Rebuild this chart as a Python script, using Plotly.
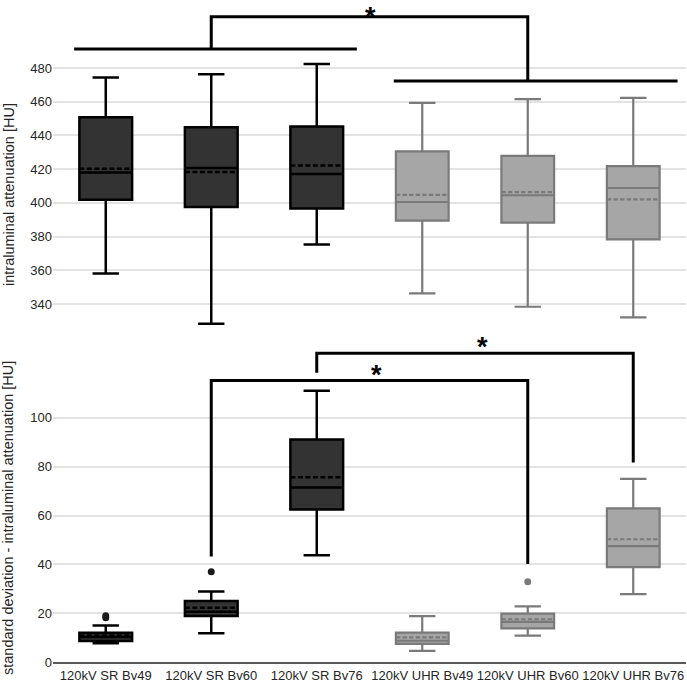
import plotly.graph_objects as go

categories = ["120kV SR Bv49", "120kV SR Bv60", "120kV SR Bv76",
              "120kV UHR Bv49", "120kV UHR Bv60", "120kV UHR Bv76"]

# Top panel: intraluminal attenuation [HU]
att_lower = [358.1, 328.3, 375.3, 346.3, 338.4, 332.1]
att_q1 = [401.9, 397.6, 396.6, 389.5, 388.3, 378.4]
att_median = [418.0, 420.6, 417.1, 400.5, 404.5, 408.8]
att_mean = [420.2, 418.3, 422.2, 404.7, 406.4, 402.1]
att_q3 = [450.8, 444.9, 445.3, 430.5, 427.9, 421.8]
att_upper = [474.3, 476.3, 482.4, 459.3, 461.5, 462.2]
att_ticks = [340, 360, 380, 400, 420, 440, 460, 480]

# Bottom panel: standard deviation - intraluminal attenuation [HU]
sd_lower = [7.8, 11.9, 43.8, 4.7, 10.9, 27.9]
sd_q1 = [8.7, 18.9, 62.5, 7.5, 13.9, 38.9]
sd_median = [10.3, 20.7, 71.5, 8.8, 16.5, 47.5]
sd_mean = [11.0, 22.3, 75.6, 10.2, 17.6, 50.3]
sd_q3 = [12.1, 25.1, 91.1, 12.1, 19.9, 62.9]
sd_upper = [15.0, 28.9, 111.0, 18.9, 22.9, 75.0]
sd_ticks = [0, 20, 40, 60, 80, 100]

sd_outlier_cat = ["120kV SR Bv49", "120kV SR Bv49", "120kV SR Bv60", "120kV UHR Bv60"]
sd_outlier_val = [18.2, 19.0, 37.0, 32.9]
sd_outlier_group = ["SR", "SR", "SR", "UHR"]

DARK_FILL, DARK_LINE = "#333333", "#000000"
LIGHT_FILL, LIGHT_LINE = "#a6a6a6", "#7a7a7a"

fig = go.Figure()


def add_boxes(lower, q1, med, mean, q3, upper, xa, ya):
    for sl, fill, line, lw in [(slice(0, 3), DARK_FILL, DARK_LINE, 2.5),
                               (slice(3, 6), LIGHT_FILL, LIGHT_LINE, 2.2)]:
        fig.add_trace(go.Box(
            x=categories[sl], q1=q1[sl], median=med[sl], q3=q3[sl],
            lowerfence=lower[sl], upperfence=upper[sl], mean=mean[sl],
            boxmean=True, boxpoints=False, fillcolor=fill,
            line=dict(color=line, width=lw), width=0.5, whiskerwidth=0.5,
            xaxis=xa, yaxis=ya, showlegend=False, hoverinfo="skip"))


add_boxes(att_lower, att_q1, att_median, att_mean, att_q3, att_upper, "x", "y")
add_boxes(sd_lower, sd_q1, sd_median, sd_mean, sd_q3, sd_upper, "x2", "y2")

fig.add_trace(go.Scatter(
    x=sd_outlier_cat, y=sd_outlier_val, mode="markers",
    marker=dict(size=7, color=["#1a1a1a" if g == "SR" else "#7a7a7a" for g in sd_outlier_group]),
    xaxis="x2", yaxis="y2", showlegend=False, hoverinfo="skip"))

W = H = 687
xdom = [53 / W, 686 / W]
FONT = "Liberation Sans, Arial, sans-serif"
tickfont = dict(family=FONT, size=13, color="#262626")

fig.update_layout(
    template="none",
    width=W, height=H, margin=dict(l=0, r=0, t=0, b=0, autoexpand=False),
    paper_bgcolor="white", plot_bgcolor="white", boxmode="overlay",
    font=dict(family=FONT),
    xaxis=dict(domain=xdom, type="category", categoryarray=categories,
               range=[-0.5, 5.5], showticklabels=False, showgrid=False,
               showline=False, zeroline=False, anchor="y", automargin=False, ticks=""),
    yaxis=dict(domain=[1 - 330 / H, 1], range=[324.6, 520.3], tickvals=att_ticks,
               gridcolor="#e3e3e3", gridwidth=1.5, showline=False, zeroline=False,
               tickfont=tickfont, anchor="x", automargin=False, ticks=""),
    xaxis2=dict(domain=xdom, type="category", categoryarray=categories,
                range=[-0.5, 5.5], showgrid=False, showline=True,
                linecolor="#595959", linewidth=1.5, zeroline=False, ticks="",
                tickfont=tickfont, anchor="y2", automargin=False),
    yaxis2=dict(domain=[1 - 662.3 / H, 1 - 335 / H], range=[0, 133.8], tickvals=sd_ticks,
                gridcolor="#e3e3e3", gridwidth=1.5, showline=False, zeroline=False,
                tickfont=tickfont, anchor="x2", automargin=False, ticks=""),
)

titlefont = dict(family=FONT, size=14.5, color="#262626")
fig.add_annotation(text="intraluminal attenuation [HU]", textangle=-90,
                   xref="paper", yref="paper", x=9 / W, y=1 - 195 / H,
                   showarrow=False, font=titlefont, xanchor="center", yanchor="middle")
fig.add_annotation(text="standard deviation - intraluminal attenuation [HU]", textangle=-90,
                   xref="paper", yref="paper", x=8 / W, y=1 - 518 / H,
                   showarrow=False, font=titlefont, xanchor="center", yanchor="middle")

# significance brackets
blk = dict(color="black", width=3)
brackets = [
    ("M -0.30,491.3 L 2.38,491.3", "x", "y"),
    ("M 2.73,472.3 L 5.42,472.3", "x", "y"),
    ("M 1,491.3 L 1,510.3 L 4,510.3 L 4,472.3", "x", "y"),
    ("M 1,43.2 L 1,115.2 L 4,115.2 L 4,40.2", "x2", "y2"),
    ("M 2,118.4 L 2,126.3 L 5,126.3 L 5,81.7", "x2", "y2"),
]
for path, xr, yr in brackets:
    fig.add_shape(type="path", path=path, xref=xr, yref=yr, line=blk)

starfont = dict(family=FONT, size=27, color="black")
# top panel star: anchored to the top edge so it stays inside the figure
fig.add_annotation(text="<b>*</b>", x=2.51, y=1, xref="x", yref="paper", showarrow=False,
                   font=starfont, xanchor="center", yanchor="top")
for sx, sy, xr, yr in [(3.57, 130.5, "x2", "y2"), (2.57, 119.2, "x2", "y2")]:
    fig.add_annotation(text="<b>*</b>", x=sx, y=sy, xref=xr, yref=yr, showarrow=False,
                       font=starfont, xanchor="center", yanchor="middle", yshift=-4)

fig.write_html("out.html", config={"displayModeBar": False},
               post_script="document.body.style.margin='0';document.body.style.overflow='hidden';")
